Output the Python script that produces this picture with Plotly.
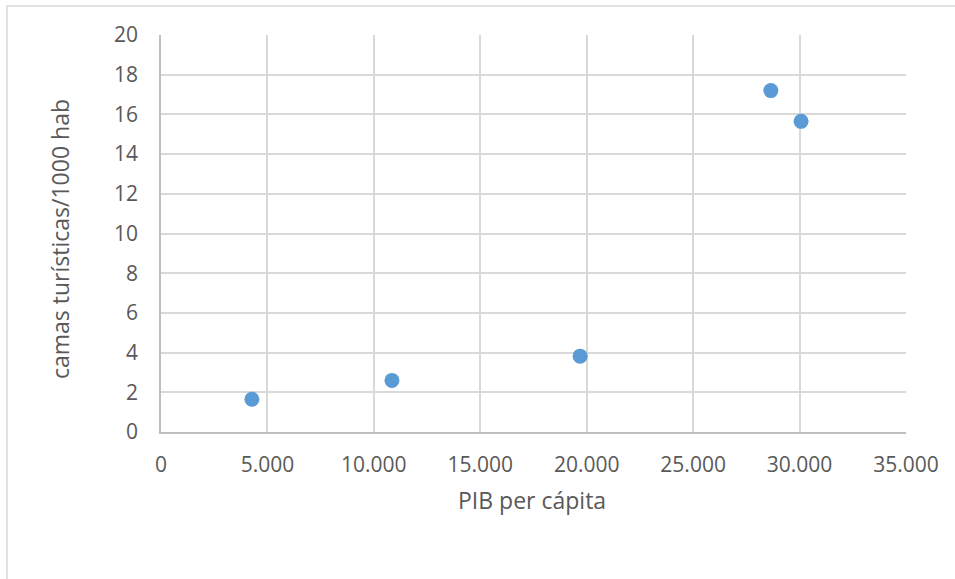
import plotly.graph_objects as go

# GDP per capita vs tourist beds per 1000 inhabitants
pib_per_capita = [4270, 10850, 19690, 28650, 30070]
camas_por_1000 = [1.65, 2.6, 3.82, 17.2, 15.65]

x_ticks = [0, 5000, 10000, 15000, 20000, 25000, 30000, 35000]
y_ticks = [0, 2, 4, 6, 8, 10, 12, 14, 16, 18, 20]

font_family = "Open Sans, Liberation Sans, sans-serif"
text_color = "#595959"
grid_color = "#D9D9D9"

fig = go.Figure(
    go.Scatter(
        x=pib_per_capita,
        y=camas_por_1000,
        mode="markers",
        marker=dict(size=15, color="#5B9BD5", line=dict(width=0)),
        hoverinfo="x+y",
    )
)

fig.update_layout(
    width=955,
    height=579,
    margin=dict(l=161, r=49, t=35, b=147),
    paper_bgcolor="white",
    plot_bgcolor="white",
    separators=",.",
    showlegend=False,
    font=dict(family=font_family, size=21, color=text_color),
    xaxis=dict(
        range=[0, 35000],
        tickvals=x_ticks,
        tickformat=",d",
        showgrid=True,
        gridcolor=grid_color,
        gridwidth=1.5,
        showline=True,
        linecolor="#BFBFBF",
        linewidth=1.5,
        zeroline=False,
        ticks="",
        ticklabelstandoff=13,
        fixedrange=True,
    ),
    yaxis=dict(
        range=[0, 20],
        tickvals=y_ticks,
        showgrid=True,
        gridcolor=grid_color,
        gridwidth=1.5,
        showline=True,
        linecolor="#BFBFBF",
        linewidth=1.5,
        zeroline=False,
        ticks="",
        ticklabelstandoff=17,
        fixedrange=True,
    ),
    annotations=[
        dict(
            text="PIB per cápita",
            xref="paper", yref="paper",
            x=(532 - 161) / 745, y=(432 - 500) / 397,
            xanchor="center", yanchor="middle",
            showarrow=False,
            font=dict(size=23, color=text_color),
        ),
        dict(
            text="camas turísticas/1000 hab",
            xref="paper", yref="paper",
            x=(60 - 161) / 745, y=(432 - 239) / 397,
            xanchor="center", yanchor="middle",
            textangle=-90,
            showarrow=False,
            font=dict(size=23, color=text_color),
        ),
    ],
    shapes=[
        # chart area frame
        dict(
            type="rect",
            xref="paper", yref="paper",
            x0=(7 - 161) / 745, x1=1.2,
            y0=-0.5, y1=(432 - 6) / 397,
            line=dict(color="#D9D9D9", width=1.5),
            fillcolor="rgba(0,0,0,0)",
            layer="below",
        ),
    ],
)

fig.write_html("out.html")
